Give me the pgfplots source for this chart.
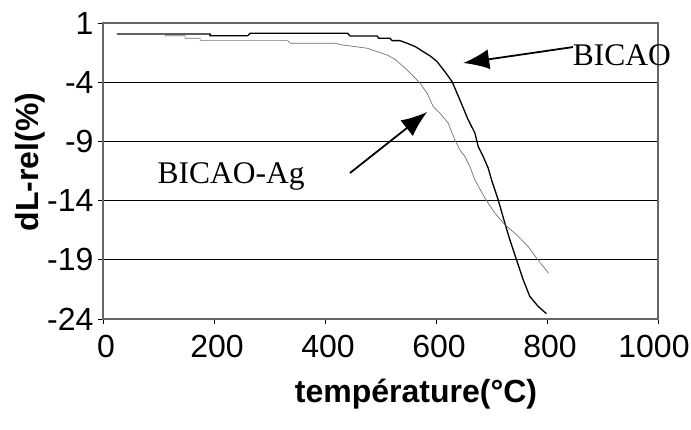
\documentclass[border=0pt]{standalone}
\usepackage{fontspec}
\setmainfont{Liberation Sans}
\newfontfamily\serifann{Liberation Serif}
\usepackage{pgfplots}
\pgfplotsset{compat=1.18}
\usetikzlibrary{arrows.meta}
\begin{document}
\begin{tikzpicture}
\path[use as bounding box] (-103pt,-110pt) rectangle (588pt,319pt);
\begin{axis}[
  at={(0,0)}, anchor=south west,
  scale only axis, width=555pt, height=296pt,
  xmin=0, xmax=1000, ymin=-24, ymax=1,
  xtick={0,200,400,600,800,1000},
  xticklabels={0,200,400,600,800,\hspace*{-14pt}1000},
  ytick={-24,-19,-14,-9,-4,1},
  yticklabels={-24,-19,-14,-9,-4,1},
  ymajorgrids, major grid style={black, line width=0.9pt},
  axis line style={black!60, line width=1.2pt},
  tick style={black, line width=0.8pt},
  major tick length=5pt, tick align=outside,
  xtick pos=bottom, ytick pos=left,
  tick label style={font=\fontsize{32}{38}\selectfont},
  xticklabel style={yshift=-8pt, xshift=3pt},
  yticklabel style={xshift=-1pt},
  xlabel={\bfseries température(°C)},
  ylabel={\bfseries dL-rel(\%)},
  label style={font=\fontsize{32}{38}\selectfont},
  xlabel style={at={(axis description cs:0.564,-0.255)}, anchor=center},
  ylabel style={at={(axis description cs:-0.1315,0.53)}, anchor=center},
  clip=false,
]
\addplot[black, line width=1.3pt] coordinates {
(25,0.07) (112,0.07) (193,0.07) (193,-0.07) (261,-0.07) (265,0.13) (441,0.13)
(445,-0.10) (494,-0.10) (497,-0.29) (517,-0.29) (521,-0.49) (535,-0.49)
(548,-0.71) (563,-1.0) (577,-1.42) (590,-1.8) (602,-2.26) (616,-3.11)
(629,-3.95) (643,-5.49) (658,-7.18) (670,-8.28) (676,-9.43) (685,-10.28)
(694,-11.25) (700,-12.24) (712,-13.93) (724,-15.89) (733,-17.3) (745,-18.99)
(757,-20.68) (769,-22.09) (784,-22.93) (799,-23.55)
};
\addplot[black!55, line width=0.7pt] coordinates {
(25,0.07) (112,0.07) (112,-0.07) (148,-0.07) (148,-0.29) (175,-0.29)
(175,-0.49) (333,-0.49) (337,-0.71) (418,-0.71) (432,-0.86) (476,-1.13)
(494,-1.42) (512,-1.70) (526,-2.06) (541,-2.68) (557,-3.38) (571,-4.08)
(584,-4.93) (595,-6.06) (607,-6.61) (622,-7.46) (634,-8.87) (643,-9.71)
(652,-10.27) (661,-11.12) (670,-12.24) (688,-13.78) (706,-15.05)
(724,-16.03) (745,-16.88) (766,-17.87) (781,-18.85) (793,-19.56) (803,-20.12)
};
\node[font=\serifann\fontsize{31.5}{36}\selectfont, inner sep=0pt] at (axis cs:935,-1.70) {BICAO};
\draw[line width=1.8pt, -{Latex[length=26pt,width=20pt]}] (axis cs:847,-1.03) -- (axis cs:649,-2.38);
\node[font=\serifann\fontsize{31.5}{36}\selectfont, inner sep=0pt] at (axis cs:231,-12.0) {BICAO-Ag};
\draw[line width=1.8pt, -{Latex[length=26pt,width=20pt]}] (axis cs:445,-11.67) -- (axis cs:584,-6.52);
\end{axis}
\end{tikzpicture}
\end{document}
